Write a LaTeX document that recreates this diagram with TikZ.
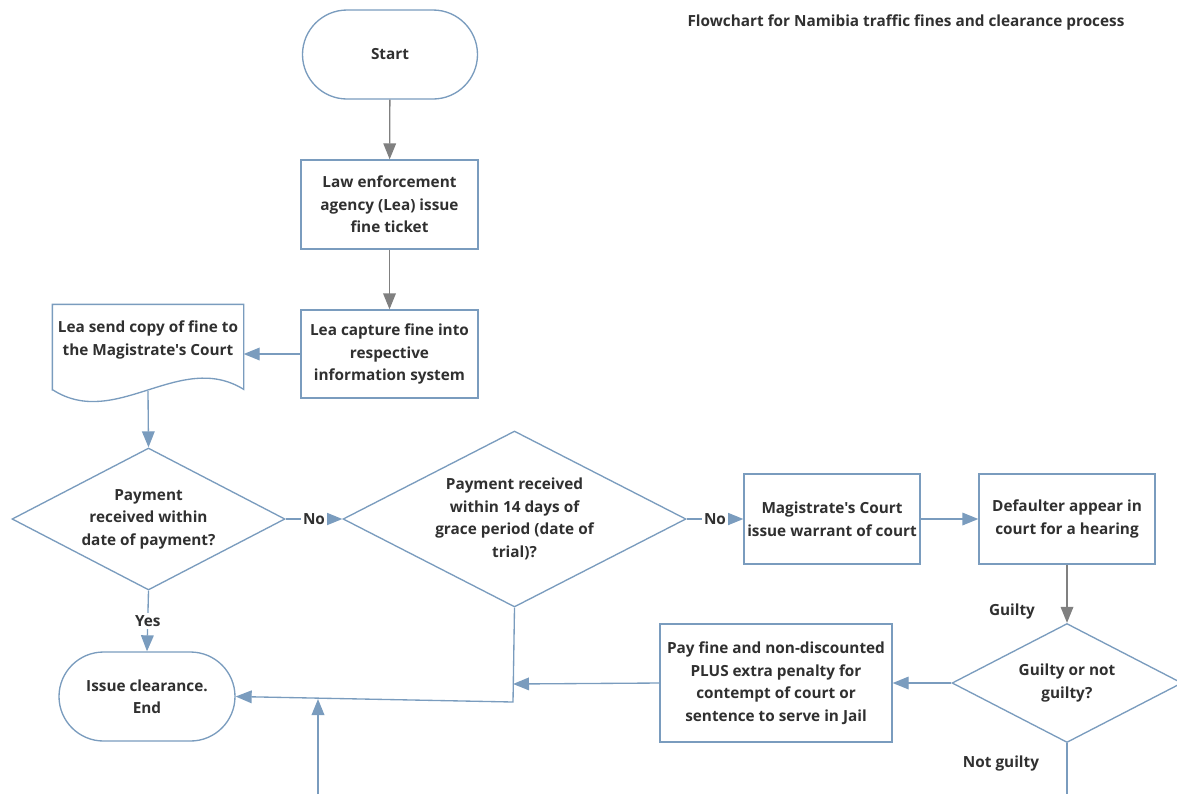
\documentclass[tikz,border=0pt]{standalone}
\usepackage{fontspec}
\setmainfont{Open Sans}[Ligatures=TeXOff]
\usetikzlibrary{shapes.geometric,arrows.meta}
\definecolor{edge}{HTML}{7A9CBE}
\definecolor{flowgray}{HTML}{808080}
\definecolor{ink}{HTML}{303030}
\tikzset{
  txt/.style={text=ink, align=center, font=\fontsize{11.5}{16.9}\selectfont\bfseries},
  base/.style={txt, draw=edge, line width=1pt, fill=white, inner sep=0pt},
  terminal/.style={base, rectangle, rounded corners=33.4pt,
    minimum width=131.25pt, minimum height=66.75pt},
  process/.style={base, rectangle, minimum width=132.75pt, minimum height=66.75pt},
  decision/.style={base, diamond},
  lbl/.style={txt, inner sep=1.5pt},
  flow/.style={draw=edge, line width=1pt, -{Triangle[length=12pt,width=9.5pt]}},
  flowg/.style={draw=flowgray, line width=1pt, -{Triangle[length=12pt,width=9.5pt]}},
  plain/.style={draw=edge, line width=1pt},
}
\begin{document}
\begin{tikzpicture}[x=0.75pt,y=-0.75pt]
\useasboundingbox (0,0) rectangle (1177,794);

\node[txt] (title) at (906,22)
  {Flowchart for Namibia traffic fines and clearance process};

% main column
\node[terminal] (start) at (390,54.5) {Start};
\node[process] (b1) at (389.5,204.5) {Law enforcement\\agency (Lea) issue\\fine ticket};
\node[process, minimum height=66pt] (b2) at (389.5,354) {Lea capture fine into\\respective\\information system};

% document shape with wavy lower edge
\node[base, draw=none, fill=none, minimum width=142.5pt, minimum height=52.5pt] (doc) at (148,340)
  {Lea send copy of fine to\\the Magistrate's Court};
\draw[plain] (doc.south west) ++(0,15) -- (doc.north west) -- (doc.north east) -- ++(0,85)
  .. controls (180,350) and (116,430) .. (53,390);
\coordinate (docb) at (148,391);

% decisions (text set as centred labels so it does not enlarge the shapes)
\node[decision, minimum width=204.75pt, minimum height=106.5pt,
  label={[txt]center:Payment\\received within\\date of payment?}] (d1) at (148.5,519) {};
\node[decision, minimum width=257.25pt, minimum height=132pt,
  label={[txt]center:Payment received\\within 14 days of\\grace period (date of\\trial)?}] (d2) at (514.5,519) {};
\node[process, minimum width=132pt, minimum height=67.5pt] (b3) at (832,519)
  {Magistrate's Court\\issue warrant of court};
\node[process, minimum width=132pt, minimum height=67.5pt] (b4) at (1067,519)
  {Defaulter appear in\\court for a hearing};
\node[decision, minimum width=172.5pt, minimum height=89.25pt,
  label={[txt]center:Guilty or not\\guilty?}] (d3) at (1067,683) {};
\node[process, minimum width=174pt, minimum height=88.5pt] (b5) at (776,683)
  {Pay fine and non-discounted\\PLUS extra penalty for\\contempt of court or\\sentence to serve in Jail};
\node[terminal, minimum width=132pt] (end) at (147,696.5) {Issue clearance.\\End};

% junction points
\coordinate (j1) at (513,684);
\coordinate (j2) at (513,702);
\coordinate (j3) at (318,699);
\coordinate (low) at (318,794);
\coordinate (d3low) at (1067,794);

% connectors
\draw[flowg] (start) -- (b1);
\draw[flowg] (b1) -- (b2);
\draw[flow] (b2.west) -- (b2.west -| doc.east);
\draw[flow] (docb) -- (d1.north);
\draw[flow] (d1.east) -- node[lbl, fill=white] {No} (d2.west);
\draw[flow] (d2.east) -- node[lbl, fill=white] {No} (b3.west);
\draw[flow] (b3) -- (b4);
\draw[flowg] (b4) -- (d3.north);
\draw[flow] (d3.west) -- (b5.east);
\draw[flow] (b5.west) -- (j1);
\draw[flow] (d2.south) -- (j2) -- (end.east);
\draw[flow] (low) -- (j3);
\draw[flow] (d1.south) -- node[lbl, fill=white] {Yes} (end.north);
\draw[plain] (d3.south) -- (d3low);

\node[lbl] (glabel) at (1012,612) {Guilty};
\node[lbl] (nglabel) at (1001,763) {Not guilty};
\end{tikzpicture}
\end{document}
